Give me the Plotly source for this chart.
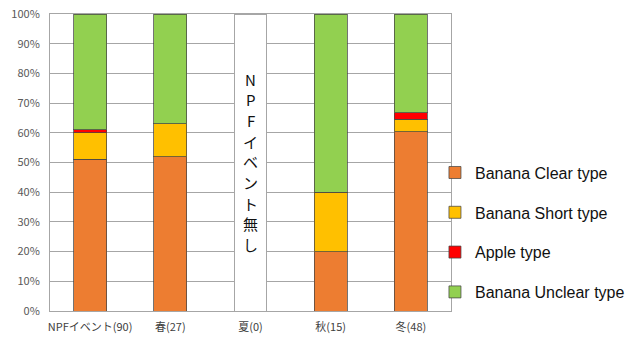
import plotly.graph_objects as go

categories = ["NPFイベント(90)", "春(27)", "夏(0)", "秋(15)", "冬(48)"]
banana_clear = [51.1, 51.9, 0, 20.0, 60.4]
banana_short = [8.9, 11.1, 0, 20.0, 4.2]
apple = [1.1, 0, 0, 0, 2.1]
banana_unclear = [38.9, 37.0, 0, 60.0, 33.3]
no_event_band = [0, 0, 100, 0, 0]
no_event_text = "NPFイベント無し"
y_ticks = [0, 10, 20, 30, 40, 50, 60, 70, 80, 90, 100]

series = [
    ("Banana Clear type", banana_clear, "#ED7D31"),
    ("Banana Short type", banana_short, "#FFC000"),
    ("Apple type", apple, "#FF0000"),
    ("Banana Unclear type", banana_unclear, "#92D050"),
]


def nz(vals):
    return [v if v else None for v in vals]


fig = go.Figure()
for name, vals, col in series:
    fig.add_trace(go.Bar(
        x=categories, y=nz(vals), name=name, legendgroup=name,
        marker=dict(color=col, line=dict(color="rgba(70,70,70,0.75)", width=1)),
    ))

# white box for the season with no event
fig.add_trace(go.Bar(
    x=categories, y=nz(no_event_band), showlegend=False, hoverinfo="skip",
    marker=dict(color="white", line=dict(color="#a6a6a6", width=1)),
))

# vertical stacked text, one character per line
for i, ch in enumerate(no_event_text):
    fig.add_annotation(
        x=categories[2], y=78 - i * 6.95, xref="x", yref="y",
        text=ch, showarrow=False,
        font=dict(family="Noto Sans CJK JP", size=15, color="#111111"),
        align="center", yanchor="middle",
    )

fig.update_layout(
    barmode="stack",
    bargap=0.59,
    width=638, height=338,
    margin=dict(l=50, r=187, t=14, b=27, autoexpand=False),
    paper_bgcolor="white", plot_bgcolor="white",
    legend=dict(
        x=0.96, xanchor="left", y=0.264, yanchor="middle",
        traceorder="grouped", tracegroupgap=16,
        font=dict(family="Liberation Sans, Arial", size=16, color="#111111"),
        itemwidth=30, bgcolor="rgba(0,0,0,0)",
    ),
    showlegend=True,
)
fig.update_xaxes(
    type="category", range=[-0.5, 4.5],
    showline=True, linecolor="#a6a6a6", linewidth=1, mirror=True,
    showgrid=False, ticks="", ticklabelstandoff=6,
    tickfont=dict(family="Noto Sans CJK JP", size=11, color="#404040"),
)
fig.update_yaxes(
    range=[0, 100], tickvals=y_ticks, ticktext=[f"{v}%" for v in y_ticks],
    showgrid=True, gridcolor="#a6a6a6", gridwidth=1,
    showline=True, linecolor="#a6a6a6", linewidth=1, mirror=True,
    zeroline=False, ticks="", ticklabelstandoff=7,
    tickfont=dict(family="Noto Sans CJK JP", size=11, color="#595959"),
)

fig.write_html("out.html")
